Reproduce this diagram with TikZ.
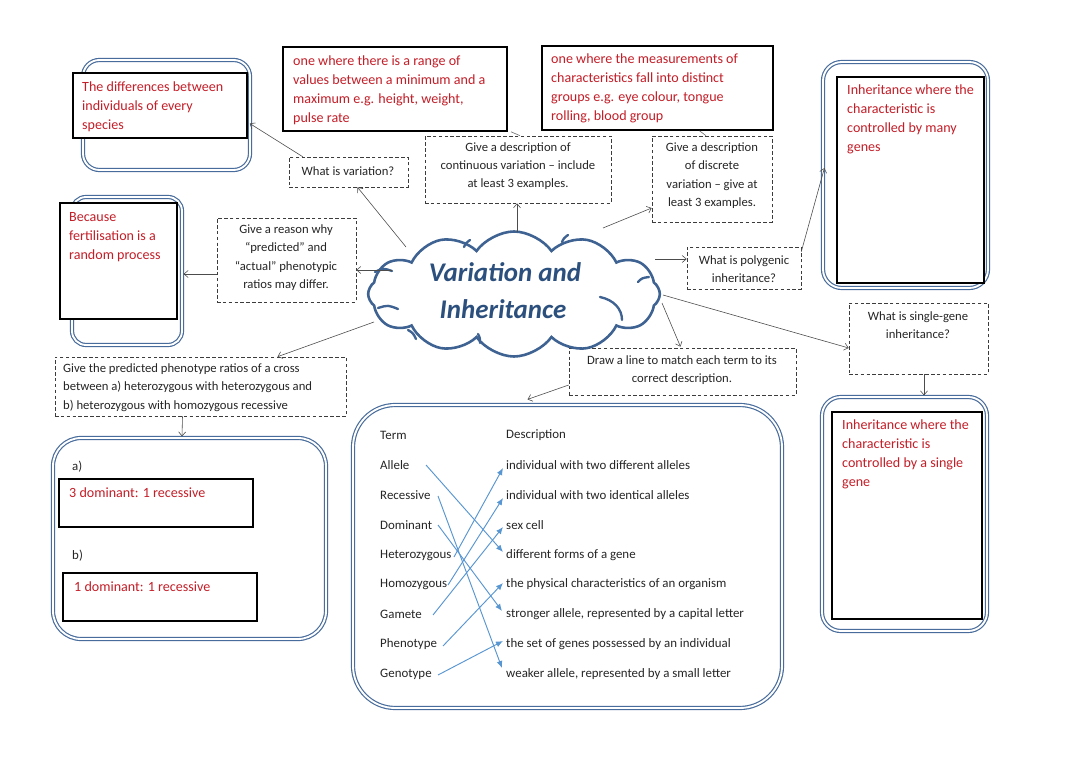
\documentclass[tikz,border=0pt]{standalone}
\usepackage{fontspec}
\setmainfont{Carlito}
\usetikzlibrary{shapes.symbols,arrows.meta,fit,calc}
\definecolor{ans}{RGB}{196,30,40}
\definecolor{boxblue}{RGB}{72,108,156}
\definecolor{cloudblue}{RGB}{62,98,145}
\definecolor{titleblue}{RGB}{44,80,125}
\definecolor{linkblue}{RGB}{88,150,210}
\definecolor{qgray}{RGB}{60,60,60}
\begin{document}
\begin{tikzpicture}[x=0.03cm,y=-0.03cm,
  qbox/.style={draw=qgray, densely dashed, line width=0.5pt, fill=white, inner sep=0},
  qtext/.style={font=\fontsize{10.8}{15.6}\selectfont, text=black!85, align=center, inner sep=0},
  abox/.style={draw=black, line width=1.3pt, fill=white, inner sep=0},
  atext/.style={font=\fontsize{12}{16.2}\selectfont, text=ans, align=left, inner sep=0, anchor=west},
  dbl/.style={draw=boxblue, double=white, double distance=1.6pt, line width=1pt, rounded corners=#1, inner sep=0},
  arr/.style={draw=black!70, line width=0.5pt, -{Straight Barb[length=3.5pt,width=6pt]}},
  link/.style={draw=linkblue, line width=0.8pt, -{Latex[length=6pt,width=5pt]}},
  tt/.style={font=\fontsize{11}{12}\selectfont, text=black!85, anchor=west, inner sep=0},
  title/.style={font=\fontsize{23}{26}\selectfont\bfseries\itshape, text=titleblue, inner sep=0},
  inarc/.style={draw=cloudblue, line width=2pt, line cap=round},
]
\useasboundingbox (0,0) rectangle (1080,764);
\fill[white] (0,0) rectangle (1080,764);

% ---------- blue double frames ----------
\node[dbl=14pt, fit={(83,60)(250,170)}] (o1) {};
\node[dbl=12pt, fit={(72,197)(182,345)}] (o2) {};
\node[dbl=16pt, fit={(823,62)(988,288)}] (o3) {};
\node[dbl=24pt, fit={(53,438)(326,639)}] (o4) {};
\node[dbl=36pt, fit={(353,405)(782,708)}] (o5) {};
\node[dbl=16pt, fit={(822,397)(987,631)}] (o6) {};

% ---------- answer boxes ----------
\node[abox, fit={(73,73)(247,138)}] (diffB) {};
\node[atext] (diffT) at (82,107) {The differences between\\individuals of every\\species};
\node[abox, fit={(283,47)(507,131)}] (contA) {};
\node[atext] (contAT) at (293,90) {one where there is a range of\\values between a minimum and a\\maximum e.g. height, weight,\\pulse rate};
\node[abox, fit={(542,46)(773,130)}] (discA) {};
\node[atext] (discAT) at (551,88) {one where the measurements of\\characteristics fall into distinct\\groups e.g. eye colour, tongue\\rolling, blood group};
\node[abox, fit={(837,77)(984,283)}] (polyA) {};
\node[atext] (polyAT) at (847,119) {Inheritance where the\\characteristic is\\controlled by many\\genes};
\node[abox, fit={(60,203)(177,319)}] (becB) {};
\node[atext] (becT) at (69,237) {Because\\fertilisation is a\\random process};
\node[abox, fit={(59,479)(253,527)}] (aB) {};
\node[atext] (aT) at (69,493) {3 dominant: 1 recessive};
\node[abox, fit={(63,573)(257,621)}] (bB) {};
\node[atext] (bT) at (74,587) {1 dominant: 1 recessive};
\node[abox, fit={(832,412)(982,619)}] (singA) {};
\node[atext] (singAT) at (842,454) {Inheritance where the\\characteristic is\\controlled by a single\\gene};
\node[tt] (aL) at (72,467) {a)};
\node[tt] (bL) at (72,556) {b)};

% ---------- question boxes ----------
\node[qbox, fit={(289,157)(408,187)}] (var) {};
\node[qtext] (varT) at (348,171) {What is variation?};
\node[qbox, fit={(425,136)(611,203)}] (cont) {};
\node[qtext] (contT) at (518,166) {Give a description of\\continuous variation -- include\\at least 3 examples.};
\node[qbox, fit={(652,136)(772,222)}] (disc) {};
\node[qtext] (discT) at (712,175.5) {Give a description\\of discrete\\variation -- give at\\least 3 examples.};
\node[qbox, fit={(217,218)(356,302)}] (reason) {};
\node[qtext] (reasonT) at (286,257.5) {Give a reason why\\“predicted” and\\“actual” phenotypic\\ratios may differ.};
\node[qbox, fit={(687,247)(801,289)}] (poly) {};
\node[qtext] (polyT) at (744,269.5) {What is polygenic\\inheritance?};
\node[qbox, fit={(55,357)(346,416)}] (pred) {};
\node[qtext, align=left, anchor=west] (predT) at (63,387.5) {Give the predicted phenotype ratios of a cross\\between a) heterozygous with heterozygous and\\b) heterozygous with homozygous recessive};
\node[qbox, fit={(569,348)(796,395)}] (match) {};
\node[qtext] (matchT) at (682,370) {Draw a line to match each term to its\\correct description.};
\node[qbox, fit={(849,303)(988,374)}] (single) {};
\node[qtext] (singleT) at (918,325.5) {What is single-gene\\inheritance?};

% ---------- cloud ----------
\node[cloud, draw=cloudblue, line width=2.2pt, fill=white, cloud puffs=12, cloud puff arc=110,
      aspect=2.3, minimum width=8.75cm, minimum height=3.75cm, inner sep=0] (cloud) at (514,294) {};
\draw[inarc] (600,297) .. controls (614,300) and (622,309) .. (622,320);
\draw[inarc] (638,282) .. controls (642,278) .. (649,277);
\draw[inarc] (375,272) .. controls (383,268) .. (392,271);
\draw[inarc] (378,308) .. controls (388,305) .. (398,309);
\draw[inarc] (408,330) .. controls (413,333) .. (416,339);
\draw[inarc] (478,334) .. controls (480,338) .. (480,343);
\draw[inarc] (464,247) .. controls (466,243) .. (470,240);
\draw[inarc] (562,242) .. controls (564,238) .. (568,235);
\node[title] (t1) at (505,272) {Variation and};
\node[title] (t2) at (503,309) {Inheritance};

% ---------- connectors ----------
\coordinate (cVar) at (406,247);
\coordinate (cCont) at (517,232);
\coordinate (cDisc) at (603,228);
\coordinate (cPoly) at (655,259);
\coordinate (cReason) at (392,270);
\coordinate (cPred) at (374,322);
\coordinate (cMatch) at (662,303);
\coordinate (cSingle) at (663,295);
\draw[arr] (cVar) -- ($(var.south)+(9,0)$);
\draw[arr] ($(var.north west)+(14,0)$) -- ($(diffB.east)+(2,18)$);
\draw[arr] (cCont) -- ($(cont.south)+(-1,0)$);
\draw[arr] (cDisc) -- ($(disc.west)+(0,29)$);
\draw[arr] (cPoly) -- ($(poly.west)+(0,-9)$);
\draw[arr] ($(poly.north east)+(0,5)$) -- ($(o3.west)+(2,-7)$);
\draw[arr] (cReason) -- ($(reason.east)+(0,10)$);
\draw[arr] ($(reason.west)+(0,14)$) -- ($(o2.east)+(1,3)$);
\draw[arr] (cPred) -- ($(pred.north)+(77,0)$);
\draw[arr] ($(pred.south)+(-18,0)$) -- ($(o4.north)+(-7.5,-1)$);
\draw[arr] (cMatch) -- ($(match.north)+(-2,-1)$);
\draw[arr] ($(match.west)+(0,13.5)$) -- ($(o5.north)+(-40,-5)$);
\draw[arr] (cSingle) -- ($(single.west)+(0,9.5)$);
\draw[arr] ($(single.south)+(5.5,0)$) -- ($(o6.north)+(19.5,-1)$);
\draw[draw=black!60, line width=0.5pt] ($(contA.south)+(116,0)$) -- ($(cont.north)+(2,0)$);
\draw[draw=black!60, line width=0.5pt] ($(discA.south)+(42,0)$) -- ($(disc.north)+(-6,0)$);

% ---------- matching table ----------
\node[tt] (hT) at (380,435) {Term};
\node[tt] (hD) at (506,435) {Description};
\node[tt] (r1) at (380,465) {Allele};
\node[tt] (r2) at (380,495) {Recessive};
\node[tt] (r3) at (380,525) {Dominant};
\node[tt] (r4) at (380,555) {Heterozygous};
\node[tt] (r5) at (380,584) {Homozygous};
\node[tt] (r6) at (380,614) {Gamete};
\node[tt] (r7) at (380,644) {Phenotype};
\node[tt] (r8) at (380,674) {Genotype};
\node[tt] (d1) at (506,465) {individual with two different alleles};
\node[tt] (d2) at (506,495) {individual with two identical alleles};
\node[tt] (d3) at (506,525) {sex cell};
\node[tt] (d4) at (506,555) {different forms of a gene};
\node[tt] (d5) at (506,584) {the physical characteristics of an organism};
\node[tt] (d6) at (506,614) {stronger allele, represented by a capital letter};
\node[tt] (d7) at (506,644) {the set of genes possessed by an individual};
\node[tt] (d8) at (506,674) {weaker allele, represented by a small letter};
\coordinate (s1) at (426,465);
\coordinate (s2) at (438,496);
\coordinate (s3) at (438,525);
\coordinate (s4) at (454,557);
\coordinate (s5) at (448,585);
\coordinate (s6) at (433,615);
\coordinate (s7) at (443,646);
\coordinate (s8) at (438,675);
\draw[link] (s1) -- ($(d4.west)+(-3,-3)$);
\draw[link] (s2) -- ($(d8.west)+(-4,-6)$);
\draw[link] (s3) -- ($(d6.west)+(-4,-3)$);
\draw[link] (s4) -- ($(d1.west)+(-3,3)$);
\draw[link] (s5) -- ($(d2.west)+(-3,3)$);
\draw[link] (s6) -- ($(d3.west)+(-3,2)$);
\draw[link] (s7) -- ($(d5.west)+(-3,-1)$);
\draw[link] (s8) -- ($(d7.west)+(-3,-3)$);
\end{tikzpicture}
\end{document}
